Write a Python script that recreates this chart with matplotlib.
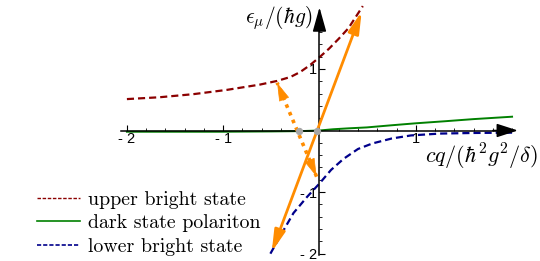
import matplotlib
matplotlib.use("Agg")
import matplotlib.pyplot as plt
import numpy as np
from matplotlib.lines import Line2D
from matplotlib.ticker import FixedLocator, FixedFormatter

plt.rcParams['mathtext.fontset'] = 'cm'

# curves
upper_x = [-2.0, -1.66, -1.31, -0.96, -0.62, -0.44, -0.3, -0.2, -0.1, 0.0, 0.1, 0.2, 0.3, 0.45]
upper_y = [0.51, 0.54, 0.59, 0.66, 0.745, 0.805, 0.87, 0.95, 1.06, 1.19, 1.33, 1.49, 1.66, 2.02]

dark_x = [-2.0, -1.5, -1.0, -0.5, -0.2, 0.0, 0.14, 0.3, 0.49, 0.75, 1.0, 1.3, 1.6, 2.0]
dark_y = [-0.02, -0.02, -0.02, -0.015, -0.01, 0.0, 0.02, 0.035, 0.05, 0.085, 0.117, 0.15, 0.185, 0.224]

lower_x = [-0.51, -0.41, -0.27, -0.13, 0.0, 0.12, 0.25, 0.4, 0.55, 0.75, 0.95, 1.25, 1.6, 2.0]
lower_y = [-2.0, -1.72, -1.34, -1.08, -0.86, -0.64, -0.46, -0.3, -0.21, -0.13, -0.08, -0.05, -0.04, -0.035]

# transition arrows and crossing points
solid_arrow_x = [-0.496, 0.438]
solid_arrow_y = [-1.97, 1.93]
dotted_arrow_x = [-0.03, -0.44]
dotted_arrow_y = [-0.75, 0.776]
dots_x = [-0.21, -0.025]
dots_y = [0.0, 0.0]

tick_vals = [-2, -1, 1]
tick_labels = ['- 2', '- 1', '1']

labels = ['upper bright state', 'dark state polariton', 'lower bright state']
colors = ['#8b0000', '#008000', '#00008b']
orange = '#ff8c00'

fig = plt.figure(figsize=(5.4, 2.61), dpi=100)
ax = fig.add_axes([0, 0, 1, 1])
ax.set_xlim(-3.318, 2.29)
ax.set_ylim(-2.119, 2.119)

# axes through origin
for s in ['top', 'right']:
    ax.spines[s].set_visible(False)
ax.spines['bottom'].set_position(('data', 0))
ax.spines['left'].set_position(('data', 0))
ax.spines['bottom'].set_bounds(-2.06, 1.95)
ax.spines['left'].set_bounds(-2.02, 1.85)
ax.spines['bottom'].set_linewidth(1.1)
ax.spines['left'].set_linewidth(1.1)
ax.annotate('', xy=(2.06, 0), xytext=(1.8, 0),
            arrowprops=dict(arrowstyle='-|>,head_length=1.3,head_width=0.42',
                            color='black', lw=1.1, shrinkA=0, shrinkB=0, mutation_scale=10))
ax.annotate('', xy=(0, 2.0), xytext=(0, 1.6),
            arrowprops=dict(arrowstyle='-|>,head_length=1.5,head_width=0.42',
                            color='black', lw=1.1, shrinkA=0, shrinkB=0, mutation_scale=10))

minor = [round(v, 1) for v in np.arange(-2.0, 2.01, 0.2) if abs(v) > 1e-6]
ax.xaxis.set_major_locator(FixedLocator(tick_vals))
ax.xaxis.set_major_formatter(FixedFormatter(tick_labels))
ax.yaxis.set_major_locator(FixedLocator(tick_vals))
ax.yaxis.set_major_formatter(FixedFormatter(tick_labels))
ax.xaxis.set_minor_locator(FixedLocator(minor))
ax.yaxis.set_minor_locator(FixedLocator([v for v in minor if v < 1.9]))
ax.tick_params(which='major', direction='in', length=4, width=0.8, pad=1,
               labelsize=10.5, labelfontfamily='Liberation Sans')
ax.tick_params(which='minor', direction='in', length=2.5, width=0.6)
ax.tick_params(axis='y', which='major', pad=2)

# curves
ax.plot(upper_x, upper_y, color=colors[0], lw=1.6, dashes=(3.2, 1.8))
ax.plot(dark_x, dark_y, color=colors[1], lw=1.4)
ax.plot(lower_x, lower_y, color=colors[2], lw=1.6, dashes=(3.2, 1.8))

# arrows
ax.annotate('', xy=(solid_arrow_x[1], solid_arrow_y[1]), xytext=(solid_arrow_x[0], solid_arrow_y[0]),
            arrowprops=dict(arrowstyle='<|-|>,head_length=1.3,head_width=0.33',
                            color=orange, lw=2, shrinkA=0, shrinkB=0, mutation_scale=10), zorder=5)
ax.plot(dotted_arrow_x, dotted_arrow_y, color=orange, lw=2.6, linestyle=(0, (1, 1.3)), zorder=5)
for i in range(2):
    j = 1 - i
    bx = dotted_arrow_x[i] + 0.12 * (dotted_arrow_x[j] - dotted_arrow_x[i])
    by = dotted_arrow_y[i] + 0.12 * (dotted_arrow_y[j] - dotted_arrow_y[i])
    ax.annotate('', xy=(dotted_arrow_x[i], dotted_arrow_y[i]), xytext=(bx, by),
                arrowprops=dict(arrowstyle='-|>,head_length=1.2,head_width=0.35',
                                color=orange, lw=0.5, shrinkA=0, shrinkB=0, mutation_scale=10), zorder=5)
ax.scatter(dots_x, dots_y, s=28, color='#a6a6a6', zorder=6, linewidths=0)

# axis labels
ax.text(-0.07, 1.83, r'$\epsilon_\mu/(\hbar g)$', fontsize=15.5, ha='right', va='center')
ax.text(1.10, -0.43, r'$cq/(\hbar^2 g^2/\delta)$', fontsize=16, ha='left', va='center')

# legend
handles = [Line2D([], [], color=colors[0], lw=1, dashes=(2.5, 1.2)),
           Line2D([], [], color=colors[1], lw=1.2),
           Line2D([], [], color=colors[2], lw=1.2, dashes=(2.5, 1.2))]
ax.legend(handles, labels, loc='upper left', bbox_to_anchor=(0.068, 0.27),
          frameon=False, prop={'family': 'cmr10', 'size': 14.3},
          handlelength=2.2, handletextpad=0.4, labelspacing=0.28, borderpad=0, borderaxespad=0)

fig.savefig('out.png', dpi=100)
